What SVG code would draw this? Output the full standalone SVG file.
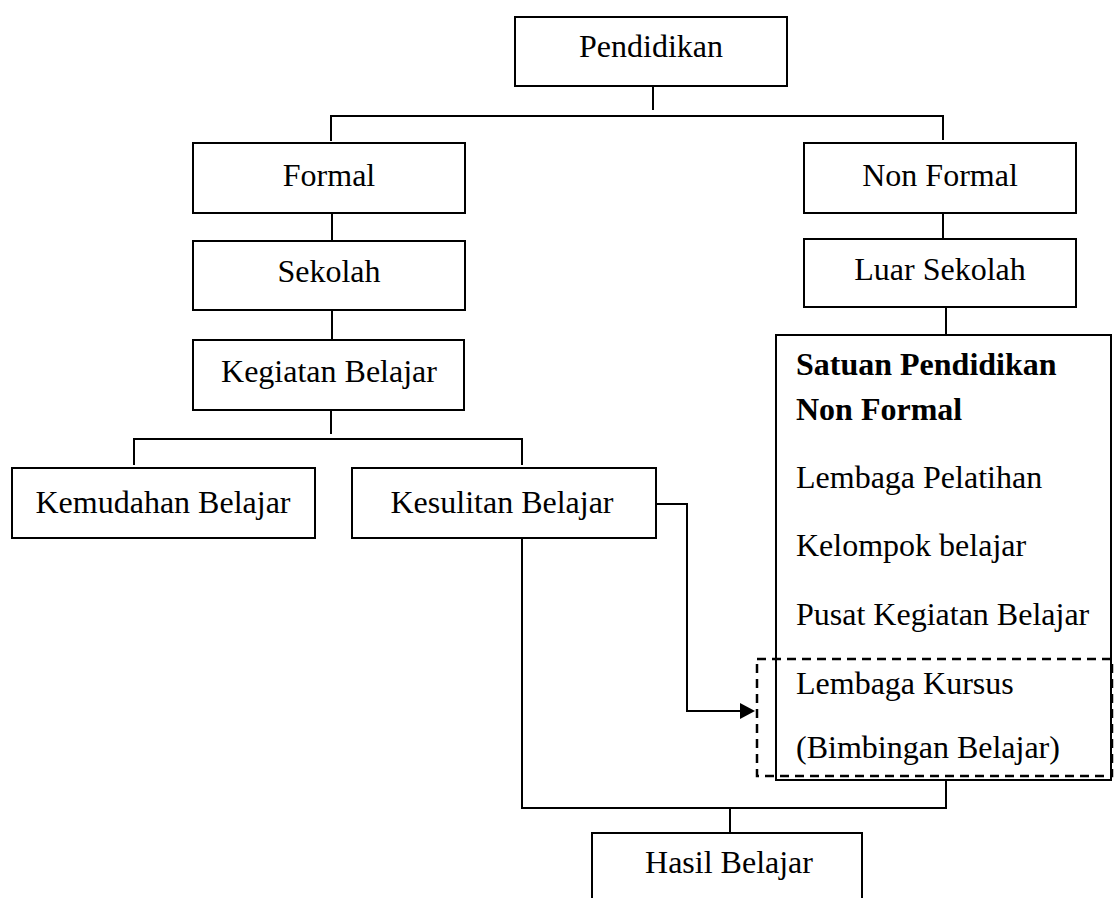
<svg xmlns="http://www.w3.org/2000/svg" width="1116" height="898" viewBox="0 0 1116 898">
<style>
.box{fill:#fff;stroke:#000;stroke-width:2}
.ln{fill:none;stroke:#000;stroke-width:2}
.dash{fill:none;stroke:#000;stroke-width:2.5;stroke-dasharray:9,6}
text{font-family:"Liberation Serif","Times New Roman",serif;font-size:32px;fill:#000}
.c{text-anchor:middle}
.b{font-weight:bold}
</style>
<defs>
<marker id="arr" markerWidth="10" markerHeight="10" refX="9" refY="5" orient="auto" markerUnits="userSpaceOnUse" viewBox="0 0 10 10">
<path d="M0,0 L10,5 L0,10 Z" fill="#000"/>
</marker>
</defs>
<rect width="1116" height="898" fill="#fff"/>
<g id="connectors">
<path class="ln" d="M653,86 V110"/>
<path class="ln" d="M331,141 V116 H943 V140"/>
<path class="ln" d="M332,213 V241"/>
<path class="ln" d="M332,310 V340"/>
<path class="ln" d="M943,213 V239"/>
<path class="ln" d="M946,307 V335"/>
<path class="ln" d="M331,410 V434"/>
<path class="ln" d="M134,465 V439 H522 V465"/>
<path class="ln" d="M653,504 H687 V711 H740" />
<path d="M740,703 L755,711 L740,719 Z" fill="#000"/>
<path class="ln" d="M522,538 V808 H946 V780"/>
<path class="ln" d="M730,808 V833"/>
</g>
<g id="pendidikan"><rect class="box" x="515" y="17" width="272" height="69"/><text class="c" x="651" y="57">Pendidikan</text></g>
<g id="formal"><rect class="box" x="193" y="143" width="272" height="70"/><text class="c" x="329" y="186">Formal</text></g>
<g id="sekolah"><rect class="box" x="193" y="241" width="272" height="69"/><text class="c" x="329" y="282">Sekolah</text></g>
<g id="kegiatan"><rect class="box" x="193" y="340" width="271" height="70"/><text class="c" x="329" y="382">Kegiatan Belajar</text></g>
<g id="kemudahan"><rect class="box" x="12" y="468" width="303" height="70"/><text class="c" x="163" y="513">Kemudahan Belajar</text></g>
<g id="kesulitan"><rect class="box" x="352" y="468" width="304" height="70"/><text class="c" x="502" y="513">Kesulitan Belajar</text></g>
<g id="nonformal"><rect class="box" x="804" y="143" width="272" height="70"/><text class="c" x="940" y="186">Non Formal</text></g>
<g id="luarsekolah"><rect class="box" x="804" y="239" width="272" height="68"/><text class="c" x="940" y="280">Luar Sekolah</text></g>
<g id="satuan">
<rect class="box" x="776" y="335" width="335" height="445"/>
<text class="b" x="796" y="375">Satuan Pendidikan</text>
<text class="b" x="796" y="420">Non Formal</text>
<text x="796" y="488">Lembaga Pelatihan</text>
<text x="796" y="556">Kelompok belajar</text>
<text x="796" y="625">Pusat Kegiatan Belajar</text>
<text x="796" y="694">Lembaga Kursus</text>
<text x="796" y="758">(Bimbingan Belajar)</text>
</g>
<g id="kursus-highlight"><rect class="dash" x="757" y="659" width="355" height="117"/></g>
<g id="hasil"><path class="box" d="M592,898 V833 H862 V898"/><text class="c" x="729" y="873">Hasil Belajar</text></g>
</svg>
